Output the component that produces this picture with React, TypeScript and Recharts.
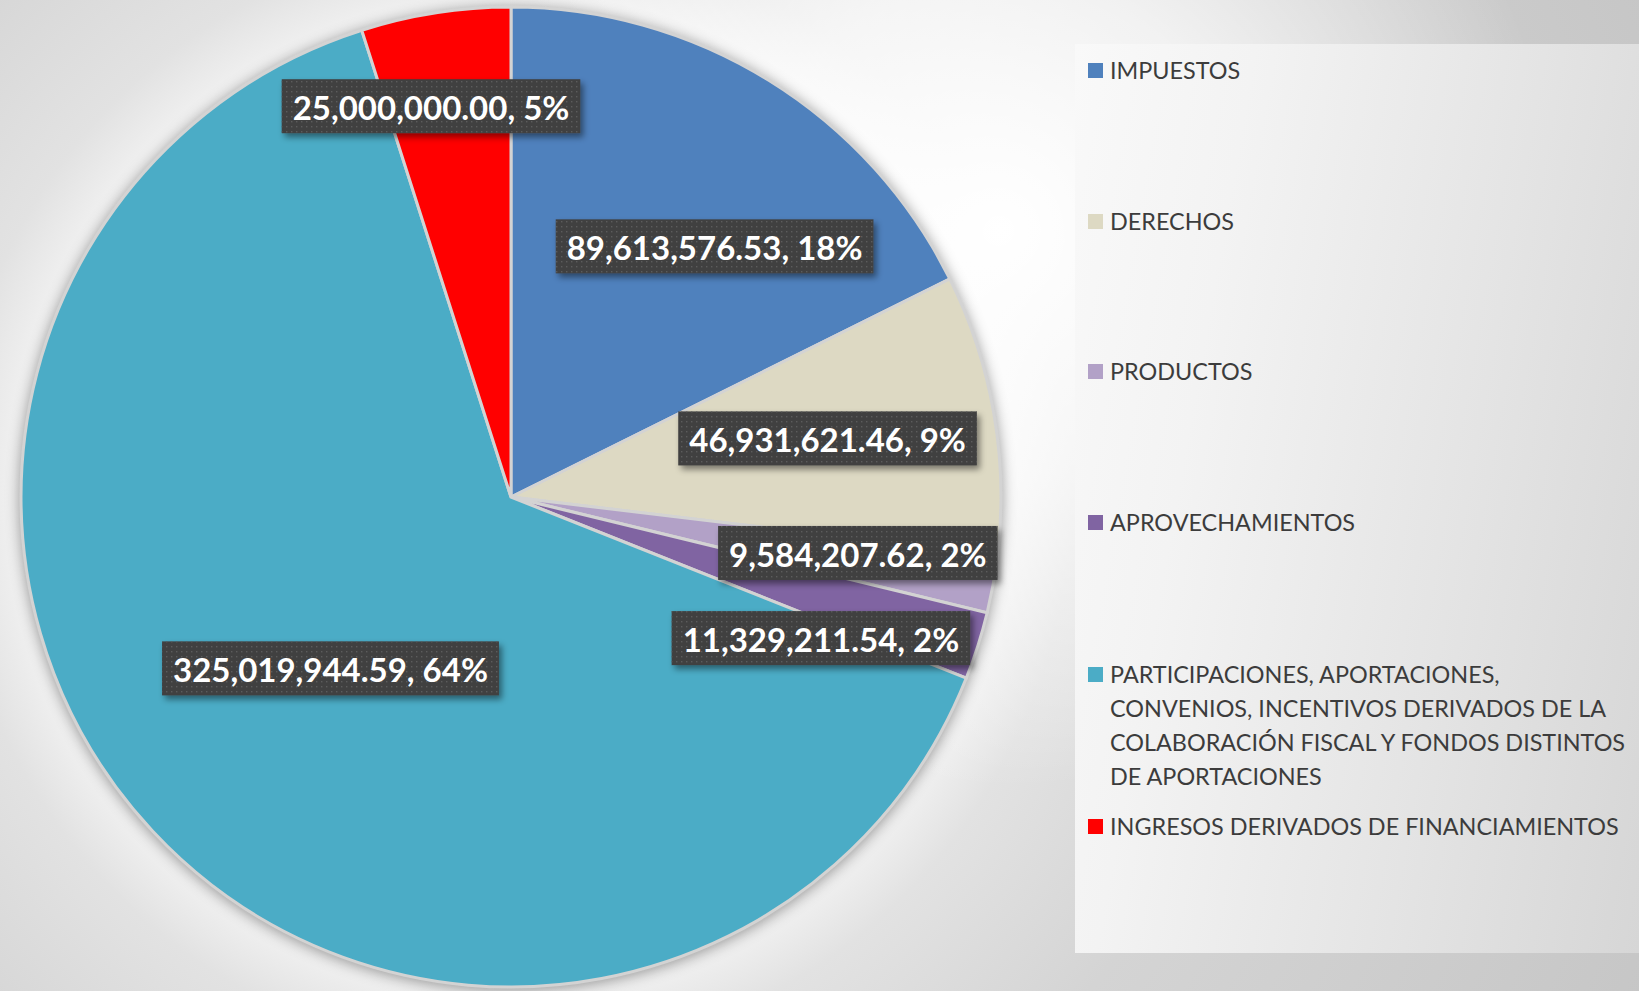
import React from 'react';
import { PieChart, Pie, Cell, Legend } from 'recharts';

const categories = [
  'IMPUESTOS',
  'DERECHOS',
  'PRODUCTOS',
  'APROVECHAMIENTOS',
  'PARTICIPACIONES, APORTACIONES, CONVENIOS, INCENTIVOS DERIVADOS DE LA COLABORACIÓN FISCAL Y FONDOS DISTINTOS DE APORTACIONES',
  'INGRESOS DERIVADOS DE FINANCIAMIENTOS',
];
const amounts = [89613576.53, 46931621.46, 9584207.62, 11329211.54, 325019944.59, 25000000.0];
const colors = ['#4f81bd', '#ddd9c3', '#b2a1c7', '#8064a2', '#4bacc6', '#ff0000'];

// where each data label sits: fraction of radius + small turn off the mid angle (deg)
const labelPlace = [
  { r: 0.659, turn: -7.3 },
  { r: 0.657, turn: 0.7 },
  { r: 0.717, turn: 1.1 },
  { r: 0.695, turn: -6.8 },
  { r: 0.508, turn: 0.5 },
  { r: 0.814, turn: 2.7 },
];
// legend rows, top of each entry inside the legend box
const legendTops = [9, 160, 310, 461, 613, 765];

const data = categories.map((name, i) => ({ name, value: amounts[i] }));

const RAD = Math.PI / 180;
const LABEL_FONT = 'bold 33px Lato';
const LEGEND_FONT = '23.4px Lato';

let ctx: CanvasRenderingContext2D | null = null;
const textWidth = (s: string, font: string) => {
  if (!ctx) ctx = document.createElement('canvas').getContext('2d');
  if (!ctx) return s.length * 17;
  ctx.font = font;
  return ctx.measureText(s).width;
};

const fmt = (v: number) =>
  v.toLocaleString('en-US', { minimumFractionDigits: 2, maximumFractionDigits: 2 });

const renderLabel = (props: any) => {
  const { cx, cy, midAngle, outerRadius, index, value, percent } = props;
  const place = labelPlace[index];
  const a = (midAngle + place.turn) * RAD;
  const x = cx + outerRadius * place.r * Math.cos(-a);
  const y = cy + outerRadius * place.r * Math.sin(-a);
  const text = `${fmt(value)}, ${Math.round(percent * 100)}%`;
  const w = textWidth(text, LABEL_FONT) + 22;
  const h = 54;
  return (
    <g key={`lbl-${index}`}>
      <rect x={x - w / 2} y={y - h / 2} width={w} height={h} fill="#3f3f3f" filter="url(#lblShadow)" />
      <rect x={x - w / 2} y={y - h / 2} width={w} height={h} fill="url(#dots)" />
      <text
        x={x}
        y={y + 1}
        fill="#ffffff"
        textAnchor="middle"
        dominantBaseline="central"
        style={{ font: LABEL_FONT }}
      >
        {text}
      </text>
    </g>
  );
};

const renderLegend = () => (
  <div style={{ position: 'relative', width: '100%', height: '100%' }}>
    {categories.map((name, i) => (
      <div
        key={name}
        style={{
          position: 'absolute',
          left: 13,
          top: legendTops[i],
          display: 'flex',
          alignItems: 'flex-start',
          font: LEGEND_FONT,
          lineHeight: '34px',
          color: '#3c3c3c',
        }}
      >
        <span
          style={{
            display: 'inline-block',
            width: 15,
            height: 15,
            background: colors[i],
            marginTop: 10,
            marginRight: 7,
            flex: 'none',
          }}
        />
        <span style={{ width: 530, whiteSpace: i === 4 ? 'normal' : 'nowrap' }}>{name}</span>
      </div>
    ))}
  </div>
);

const App: React.FC = () => {
  return (
    <div
      style={{
        position: 'absolute',
        left: 0,
        top: 0,
        width: 1639,
        height: 991,
        overflow: 'hidden',
        background:
          'radial-gradient(circle at 1000px 230px, rgba(255,255,255,1) 0px, rgba(255,255,255,0.7) 250px, rgba(255,255,255,0) 560px), ' +
          'radial-gradient(circle at 511px 497px, #ffffff 0px, #f6f6f6 470px, #e2e2e2 560px, #d4d4d4 760px, #c6c6c6 1250px)',
      }}
    >
      <style>{`.recharts-pie { filter: drop-shadow(0px 2px 7px rgba(0,0,0,0.38)); }`}</style>
      <PieChart width={1639} height={991} margin={{ top: 0, right: 0, bottom: 0, left: 0 }}>
        <defs>
          <pattern id="dots" width="5" height="5" patternUnits="userSpaceOnUse">
            <rect x="1" y="1" width="1.4" height="1.4" fill="#5c5c5c" />
          </pattern>
          <filter id="lblShadow" x="-10%" y="-30%" width="130%" height="180%">
            <feDropShadow dx="3" dy="4" stdDeviation="3" floodColor="#000" floodOpacity="0.45" />
          </filter>
        </defs>
        <Pie
          data={data}
          dataKey="value"
          nameKey="name"
          cx={511}
          cy={497}
          outerRadius={490}
          startAngle={90}
          endAngle={-270}
          stroke="#d3d3d3"
          strokeWidth={3}
          label={renderLabel}
          labelLine={false}
          isAnimationActive={false}
        >
          {data.map((d, i) => (
            <Cell key={d.name} fill={colors[i]} />
          ))}
        </Pie>
        <Legend
          layout="vertical"
          align="right"
          verticalAlign="top"
          content={renderLegend}
          wrapperStyle={{
            left: 1075,
            right: 'auto',
            top: 44,
            width: 564,
            height: 909,
            background: 'linear-gradient(100deg, #f9f9f9 0%, #f3f3f3 25%, #e4e4e4 65%, #d6d6d6 100%)',
          }}
        />
      </PieChart>
    </div>
  );
};

export default App;
